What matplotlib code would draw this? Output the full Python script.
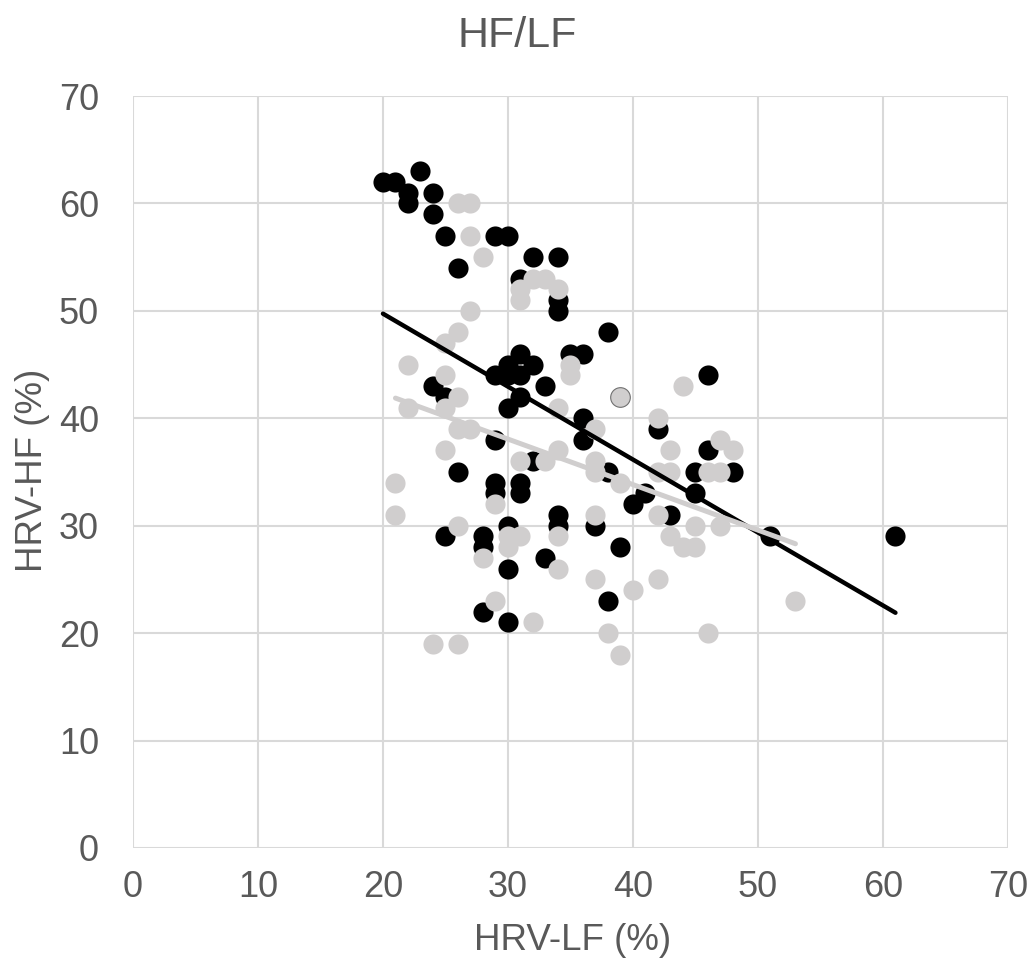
import numpy as np
import matplotlib
matplotlib.use("Agg")
from matplotlib import pyplot as plt

plt.rcParams['font.family'] = ['Liberation Sans', 'DejaVu Sans']

# black series (HRV-LF %, HRV-HF %)
black_lf = [20, 21, 22, 22, 23, 24, 24, 25, 26, 29, 30, 31, 32, 34, 34, 34,
            31, 35, 36, 30, 32, 29, 30, 31, 33, 31, 30, 24, 25, 38, 36, 36,
            29, 32, 26, 29, 29, 31, 31, 34, 34, 30, 25, 28, 28, 33, 30, 28,
            30, 38, 39, 37, 38, 40, 41, 45, 43, 42, 46, 46, 45, 48, 51, 61]
black_hf = [62, 62, 61, 60, 63, 61, 59, 57, 54, 57, 57, 53, 55, 55, 51, 50,
            46, 46, 46, 45, 45, 44, 44, 44, 43, 42, 41, 43, 42, 48, 40, 38,
            38, 36, 35, 34, 33, 34, 33, 31, 30, 30, 29, 29, 28, 27, 26, 22,
            21, 23, 28, 30, 35, 32, 33, 33, 31, 39, 44, 37, 35, 35, 29, 29]

# gray series
gray_lf = [26, 27, 27, 28, 31, 32, 33, 34, 31, 27, 26, 25, 22, 25, 35, 35,
           26, 25, 22, 26, 27, 34, 25, 31, 33, 34, 21, 29, 44, 37, 42,
           43, 47, 48, 37, 37, 39, 42, 43, 46, 47, 21, 34, 26, 28, 30, 31,
           30, 34, 29, 32, 24, 26, 37, 42, 45, 47, 43, 44, 45, 37, 40, 42,
           38, 46, 39, 53]
gray_hf = [60, 60, 57, 55, 52, 53, 53, 52, 51, 50, 48, 47, 45, 44, 45, 44,
           42, 41, 41, 39, 39, 41, 37, 36, 36, 37, 34, 32, 43, 39, 40,
           37, 38, 37, 36, 35, 34, 35, 35, 35, 35, 31, 29, 30, 27, 29, 29,
           28, 26, 23, 21, 19, 19, 31, 31, 30, 30, 29, 28, 28, 25, 24, 25,
           20, 20, 18, 23]

# single outlined gray point
odd_lf = [39]
odd_hf = [42]

black = '#000000'
gray = '#D0CECE'
text_c = '#595959'

fig = plt.figure(figsize=(10.34, 9.6), dpi=100)
ax = fig.add_axes([0.1286, 0.1167, 0.8462, 0.7833])

ax.scatter(black_lf, black_hf, s=210, c=black, linewidths=0, zorder=3)
ax.scatter(gray_lf, gray_hf, s=210, c=gray, linewidths=0, zorder=4)
ax.scatter(odd_lf, odd_hf, s=200, c=gray, edgecolors='#707070',
           linewidths=0.8, zorder=4)

# linear trendlines
bx = np.array(black_lf, dtype=float)
by = np.array(black_hf, dtype=float)
k, b = np.polyfit(bx, by, 1)
xs = np.array([bx.min(), bx.max()])
ax.plot(xs, k * xs + b, color=black, lw=3.2, solid_capstyle='round', zorder=5)

gx = np.array(gray_lf + odd_lf, dtype=float)
gy = np.array(gray_hf + odd_hf, dtype=float)
k2, b2 = np.polyfit(gx, gy, 1)
xs2 = np.array([gx.min(), gx.max()])
ax.plot(xs2, k2 * xs2 + b2, color=gray, lw=3.6, solid_capstyle='round', zorder=6)

ax.set_xlim(0, 70)
ax.set_ylim(0, 70)
ax.set_xticks(range(0, 71, 10))
ax.set_yticks(range(0, 71, 10))
ax.grid(True, color='#D9D9D9', lw=1.5)
ax.set_axisbelow(True)
for s in ax.spines.values():
    s.set_visible(False)
ax.tick_params(length=0, labelsize=26, colors=text_c)
ax.tick_params(axis='x', pad=16)
ax.tick_params(axis='y', pad=24.5)

fig.text(0.554, 1 - 950 / 960, 'HRV-LF (%)', fontsize=26.5, color=text_c,
         ha='center', va='baseline')
fig.text(50 / 1034, 0.51, 'HRV-HF (%)', fontsize=26.5, color=text_c,
         ha='right', va='center', rotation=90)
fig.text(0.5, 1 - 47 / 960, 'HF/LF', fontsize=31, color=text_c,
         ha='center', va='baseline')

fig.savefig('out.png', dpi=100)
